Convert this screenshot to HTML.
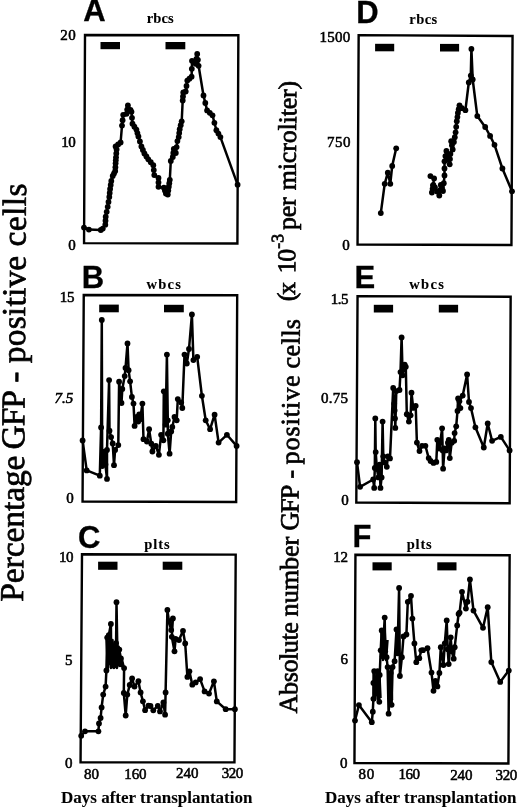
<!DOCTYPE html>
<html><head><meta charset="utf-8"><style>
html,body{margin:0;padding:0;background:#fff;width:520px;height:808px;overflow:hidden}
svg{display:block;will-change:transform}
.tb{stroke:#000;stroke-width:0.1px}
.tn{font-family:"Liberation Serif",serif;font-weight:normal;stroke:#000;stroke-width:0.55px}
.tr{stroke:#000;stroke-width:0.7px}
.sb{stroke:#000;stroke-width:0.3px}
.tb{font-family:"Liberation Serif",serif;font-weight:bold}
.tbi{font-family:"Liberation Serif",serif;font-weight:normal;font-style:italic;stroke:#000;stroke-width:0.55px}
.tr{font-family:"Liberation Serif",serif;font-weight:normal}
.sb{font-family:"Liberation Sans",sans-serif;font-weight:bold}
</style></head><body>
<svg width="520" height="808" viewBox="0 0 520 808"><defs><clipPath id="lc"><rect x="0" y="0" width="252" height="808"/></clipPath></defs><polygon points="85.00,35.00 238.35,35.25 237.40,243.55 84.05,243.10" fill="none" stroke="#000" stroke-width="2.4" stroke-linejoin="miter"/><polygon points="83.75,294.95 237.20,295.25 236.15,502.05 82.55,501.45" fill="none" stroke="#000" stroke-width="2.4" stroke-linejoin="miter"/><polygon points="82.00,554.25 235.70,554.65 234.45,762.40 80.55,762.30" fill="none" stroke="#000" stroke-width="2.4" stroke-linejoin="miter"/><polygon points="358.65,35.15 512.55,35.95 511.45,245.00 357.55,244.45" fill="none" stroke="#000" stroke-width="2.4" stroke-linejoin="miter"/><polygon points="357.55,296.15 510.65,296.80 509.65,503.25 356.30,502.45" fill="none" stroke="#000" stroke-width="2.4" stroke-linejoin="miter"/><polygon points="355.45,554.80 509.65,555.20 508.40,763.45 354.45,762.95" fill="none" stroke="#000" stroke-width="2.4" stroke-linejoin="miter"/><rect x="100.5" y="42" width="19.5" height="7.2" fill="#000"/><rect x="165.5" y="42" width="19.8" height="7.3" fill="#000"/><rect x="99.2" y="304.6" width="19.6" height="7.7" fill="#000"/><rect x="164" y="304.8" width="19.8" height="7.5" fill="#000"/><rect x="98.1" y="561.7" width="19.4" height="8.1" fill="#000"/><rect x="162.7" y="561.7" width="19.6" height="8.1" fill="#000"/><rect x="375.1" y="43.8" width="19.1" height="7.5" fill="#000"/><rect x="440" y="43.9" width="19.1" height="7.6" fill="#000"/><rect x="373.8" y="304.8" width="19.3" height="7.7" fill="#000"/><rect x="438.8" y="304.8" width="19.3" height="7.7" fill="#000"/><rect x="372.5" y="562.3" width="19.2" height="8.1" fill="#000"/><rect x="437.3" y="562.3" width="19.2" height="8.1" fill="#000"/><polyline points="84.00,227.60 88.90,229.60 100.80,230.00 102.80,228.60 105.30,224.70 105.70,216.70 107.70,206.80 109.30,197.00 110.10,189.00 111.30,181.00 112.70,176.00 115.20,171.00 115.60,163.30 116.00,157.30 116.60,149.40 115.60,146.40 120.60,142.50 122.00,125.60 123.20,114.80 126.50,113.80 127.90,105.40 130.50,109.80 131.50,111.80 132.50,123.70 136.40,129.60 138.40,136.50 141.40,146.40 144.40,153.40 148.30,159.30 153.30,165.20 154.30,175.10 158.50,178.00 158.50,186.80 163.90,187.70 165.90,193.60 167.80,194.60 168.80,186.70 169.80,179.80 170.80,160.90 172.80,157.00 173.80,149.00 175.80,153.00 177.40,141.10 178.70,137.10 179.70,129.20 181.70,121.30 182.70,100.50 183.30,92.50 185.70,91.50 187.30,80.60 191.60,76.70 192.00,60.80 195.60,63.80 197.20,53.90 198.60,65.80 203.50,95.50 207.10,110.40 212.50,115.30 216.40,130.20 220.40,137.10 237.60,184.70" fill="none" stroke="#000" stroke-width="2.5" stroke-linejoin="round"/><g fill="#000"><circle cx="84.0" cy="227.6" r="2.9"/><circle cx="88.9" cy="229.6" r="2.9"/><circle cx="100.8" cy="230.0" r="2.9"/><circle cx="102.8" cy="228.6" r="2.9"/><circle cx="105.3" cy="224.7" r="2.9"/><circle cx="105.7" cy="216.7" r="2.9"/><circle cx="107.7" cy="206.8" r="2.9"/><circle cx="109.3" cy="197.0" r="2.9"/><circle cx="110.1" cy="189.0" r="2.9"/><circle cx="111.3" cy="181.0" r="2.9"/><circle cx="112.7" cy="176.0" r="2.9"/><circle cx="115.2" cy="171.0" r="2.9"/><circle cx="115.6" cy="163.3" r="2.9"/><circle cx="116.0" cy="157.3" r="2.9"/><circle cx="116.6" cy="149.4" r="2.9"/><circle cx="115.6" cy="146.4" r="2.9"/><circle cx="120.6" cy="142.5" r="2.9"/><circle cx="122.0" cy="125.6" r="2.9"/><circle cx="123.2" cy="114.8" r="2.9"/><circle cx="126.5" cy="113.8" r="2.9"/><circle cx="127.9" cy="105.4" r="2.9"/><circle cx="130.5" cy="109.8" r="2.9"/><circle cx="131.5" cy="111.8" r="2.9"/><circle cx="132.5" cy="123.7" r="2.9"/><circle cx="136.4" cy="129.6" r="2.9"/><circle cx="138.4" cy="136.5" r="2.9"/><circle cx="141.4" cy="146.4" r="2.9"/><circle cx="144.4" cy="153.4" r="2.9"/><circle cx="148.3" cy="159.3" r="2.9"/><circle cx="153.3" cy="165.2" r="2.9"/><circle cx="154.3" cy="175.1" r="2.9"/><circle cx="158.5" cy="178.0" r="2.9"/><circle cx="158.5" cy="186.8" r="2.9"/><circle cx="163.9" cy="187.7" r="2.9"/><circle cx="165.9" cy="193.6" r="2.9"/><circle cx="167.8" cy="194.6" r="2.9"/><circle cx="168.8" cy="186.7" r="2.9"/><circle cx="169.8" cy="179.8" r="2.9"/><circle cx="170.8" cy="160.9" r="2.9"/><circle cx="172.8" cy="157.0" r="2.9"/><circle cx="173.8" cy="149.0" r="2.9"/><circle cx="175.8" cy="153.0" r="2.9"/><circle cx="177.4" cy="141.1" r="2.9"/><circle cx="178.7" cy="137.1" r="2.9"/><circle cx="179.7" cy="129.2" r="2.9"/><circle cx="181.7" cy="121.3" r="2.9"/><circle cx="182.7" cy="100.5" r="2.9"/><circle cx="183.3" cy="92.5" r="2.9"/><circle cx="185.7" cy="91.5" r="2.9"/><circle cx="187.3" cy="80.6" r="2.9"/><circle cx="191.6" cy="76.7" r="2.9"/><circle cx="192.0" cy="60.8" r="2.9"/><circle cx="195.6" cy="63.8" r="2.9"/><circle cx="197.2" cy="53.9" r="2.9"/><circle cx="198.6" cy="65.8" r="2.9"/><circle cx="203.5" cy="95.5" r="2.9"/><circle cx="207.1" cy="110.4" r="2.9"/><circle cx="212.5" cy="115.3" r="2.9"/><circle cx="216.4" cy="130.2" r="2.9"/><circle cx="220.4" cy="137.1" r="2.9"/><circle cx="237.6" cy="184.7" r="2.9"/><circle cx="105.5" cy="220.7" r="2.9"/><circle cx="106.7" cy="211.8" r="2.9"/><circle cx="108.5" cy="201.9" r="2.9"/><circle cx="109.7" cy="193.0" r="2.9"/><circle cx="110.7" cy="185.0" r="2.9"/><circle cx="114.0" cy="173.5" r="2.9"/><circle cx="115.4" cy="167.2" r="2.9"/><circle cx="115.8" cy="160.3" r="2.9"/><circle cx="116.3" cy="153.4" r="2.9"/><circle cx="118.1" cy="144.4" r="2.9"/><circle cx="122.6" cy="120.2" r="2.9"/><circle cx="127.2" cy="109.6" r="2.9"/><circle cx="132.0" cy="117.8" r="2.9"/><circle cx="134.4" cy="126.7" r="2.9"/><circle cx="137.4" cy="133.1" r="2.9"/><circle cx="139.9" cy="141.4" r="2.9"/><circle cx="142.9" cy="149.9" r="2.9"/><circle cx="146.4" cy="156.4" r="2.9"/><circle cx="150.8" cy="162.2" r="2.9"/><circle cx="153.8" cy="170.1" r="2.9"/><circle cx="158.5" cy="182.4" r="2.9"/><circle cx="164.9" cy="190.6" r="2.9"/><circle cx="168.3" cy="190.6" r="2.9"/><circle cx="169.3" cy="183.2" r="2.9"/><circle cx="173.3" cy="153.0" r="2.9"/><circle cx="176.6" cy="147.1" r="2.9"/><circle cx="179.2" cy="133.1" r="2.9"/><circle cx="180.7" cy="125.2" r="2.9"/><circle cx="183.0" cy="96.5" r="2.9"/><circle cx="186.5" cy="86.0" r="2.9"/><circle cx="189.4" cy="78.7" r="2.9"/><circle cx="191.8" cy="68.8" r="2.9"/><circle cx="196.4" cy="58.8" r="2.9"/><circle cx="197.9" cy="59.8" r="2.9"/><circle cx="205.3" cy="103.0" r="2.9"/><circle cx="209.8" cy="112.8" r="2.9"/><circle cx="214.4" cy="122.8" r="2.9"/><circle cx="218.4" cy="133.6" r="2.9"/></g><polyline points="82.60,440.40 86.70,470.40 99.80,475.70 101.10,427.50 101.80,320.00 102.20,466.00 104.60,451.60 105.40,464.40 107.00,478.90 107.00,450.00 109.10,380.10 109.50,430.70 111.10,437.10 112.70,443.50 114.00,465.20 115.10,450.00 118.30,445.10 119.10,381.70 121.50,403.00 122.30,388.90 124.70,376.10 125.50,368.00 127.50,343.40 128.60,370.20 130.10,381.30 131.90,396.90 133.50,403.60 134.60,425.90 136.80,417.00 138.20,421.50 139.20,414.50 140.20,419.20 142.40,403.60 143.50,439.20 146.90,441.50 149.10,429.20 151.30,443.70 152.40,451.50 155.80,445.90 158.90,454.80 161.10,434.80 163.40,440.30 163.80,391.30 165.60,424.70 166.90,354.60 167.80,420.30 167.80,433.70 169.60,453.70 171.20,431.40 172.30,427.00 174.50,417.00 176.70,420.30 177.80,399.10 181.20,402.50 182.30,408.00 184.50,354.60 186.80,363.50 189.00,349.00 191.90,314.50 193.40,360.10 197.20,356.80 201.90,395.80 205.70,420.30 210.10,429.20 214.60,414.70 218.60,442.60 226.90,434.80 236.60,445.90" fill="none" stroke="#000" stroke-width="2.5" stroke-linejoin="round"/><g fill="#000"><circle cx="82.6" cy="440.4" r="2.9"/><circle cx="86.7" cy="470.4" r="2.9"/><circle cx="99.8" cy="475.7" r="2.9"/><circle cx="101.1" cy="427.5" r="2.9"/><circle cx="101.8" cy="320.0" r="2.9"/><circle cx="102.2" cy="466.0" r="2.9"/><circle cx="104.6" cy="451.6" r="2.9"/><circle cx="105.4" cy="464.4" r="2.9"/><circle cx="107.0" cy="478.9" r="2.9"/><circle cx="107.0" cy="450.0" r="2.9"/><circle cx="109.1" cy="380.1" r="2.9"/><circle cx="109.5" cy="430.7" r="2.9"/><circle cx="111.1" cy="437.1" r="2.9"/><circle cx="112.7" cy="443.5" r="2.9"/><circle cx="114.0" cy="465.2" r="2.9"/><circle cx="115.1" cy="450.0" r="2.9"/><circle cx="118.3" cy="445.1" r="2.9"/><circle cx="119.1" cy="381.7" r="2.9"/><circle cx="121.5" cy="403.0" r="2.9"/><circle cx="122.3" cy="388.9" r="2.9"/><circle cx="124.7" cy="376.1" r="2.9"/><circle cx="125.5" cy="368.0" r="2.9"/><circle cx="127.5" cy="343.4" r="2.9"/><circle cx="128.6" cy="370.2" r="2.9"/><circle cx="130.1" cy="381.3" r="2.9"/><circle cx="131.9" cy="396.9" r="2.9"/><circle cx="133.5" cy="403.6" r="2.9"/><circle cx="134.6" cy="425.9" r="2.9"/><circle cx="136.8" cy="417.0" r="2.9"/><circle cx="138.2" cy="421.5" r="2.9"/><circle cx="139.2" cy="414.5" r="2.9"/><circle cx="140.2" cy="419.2" r="2.9"/><circle cx="142.4" cy="403.6" r="2.9"/><circle cx="143.5" cy="439.2" r="2.9"/><circle cx="146.9" cy="441.5" r="2.9"/><circle cx="149.1" cy="429.2" r="2.9"/><circle cx="151.3" cy="443.7" r="2.9"/><circle cx="152.4" cy="451.5" r="2.9"/><circle cx="155.8" cy="445.9" r="2.9"/><circle cx="158.9" cy="454.8" r="2.9"/><circle cx="161.1" cy="434.8" r="2.9"/><circle cx="163.4" cy="440.3" r="2.9"/><circle cx="163.8" cy="391.3" r="2.9"/><circle cx="165.6" cy="424.7" r="2.9"/><circle cx="166.9" cy="354.6" r="2.9"/><circle cx="167.8" cy="420.3" r="2.9"/><circle cx="167.8" cy="433.7" r="2.9"/><circle cx="169.6" cy="453.7" r="2.9"/><circle cx="171.2" cy="431.4" r="2.9"/><circle cx="172.3" cy="427.0" r="2.9"/><circle cx="174.5" cy="417.0" r="2.9"/><circle cx="176.7" cy="420.3" r="2.9"/><circle cx="177.8" cy="399.1" r="2.9"/><circle cx="181.2" cy="402.5" r="2.9"/><circle cx="182.3" cy="408.0" r="2.9"/><circle cx="184.5" cy="354.6" r="2.9"/><circle cx="186.8" cy="363.5" r="2.9"/><circle cx="189.0" cy="349.0" r="2.9"/><circle cx="191.9" cy="314.5" r="2.9"/><circle cx="193.4" cy="360.1" r="2.9"/><circle cx="197.2" cy="356.8" r="2.9"/><circle cx="201.9" cy="395.8" r="2.9"/><circle cx="205.7" cy="420.3" r="2.9"/><circle cx="210.1" cy="429.2" r="2.9"/><circle cx="214.6" cy="414.7" r="2.9"/><circle cx="218.6" cy="442.6" r="2.9"/><circle cx="226.9" cy="434.8" r="2.9"/><circle cx="236.6" cy="445.9" r="2.9"/></g><polyline points="81.20,735.80 85.00,731.30 98.40,731.30 99.00,723.50 100.60,718.00 101.60,707.40 103.20,694.60 105.60,686.60 106.40,670.50 107.20,637.60 108.80,635.20 110.90,623.90 111.20,662.50 112.00,646.40 113.70,665.70 116.10,643.20 116.50,602.20 117.30,648.00 119.30,649.60 120.90,658.50 120.10,664.10 124.10,668.10 123.80,693.00 125.70,715.50 127.30,694.60 129.70,685.00 132.10,678.50 134.50,686.60 138.40,681.20 140.60,692.40 142.90,701.30 145.10,710.20 148.40,705.70 150.50,706.00 153.30,710.30 157.80,705.80 160.00,711.40 163.40,702.50 165.10,714.70 165.60,692.50 167.40,610.00 168.90,621.20 171.20,630.10 172.90,618.50 171.80,636.80 174.50,651.30 175.60,639.00 179.00,640.10 183.00,630.80 185.20,643.50 187.40,676.90 189.40,671.30 192.30,684.70 195.70,682.40 200.10,679.10 204.60,691.40 209.00,693.60 213.90,681.30 216.80,701.40 225.70,709.20 234.90,709.20" fill="none" stroke="#000" stroke-width="2.5" stroke-linejoin="round"/><g fill="#000"><circle cx="81.2" cy="735.8" r="2.9"/><circle cx="85.0" cy="731.3" r="2.9"/><circle cx="98.4" cy="731.3" r="2.9"/><circle cx="99.0" cy="723.5" r="2.9"/><circle cx="100.6" cy="718.0" r="2.9"/><circle cx="101.6" cy="707.4" r="2.9"/><circle cx="103.2" cy="694.6" r="2.9"/><circle cx="105.6" cy="686.6" r="2.9"/><circle cx="106.4" cy="670.5" r="2.9"/><circle cx="107.2" cy="637.6" r="2.9"/><circle cx="108.8" cy="635.2" r="2.9"/><circle cx="110.9" cy="623.9" r="2.9"/><circle cx="111.2" cy="662.5" r="2.9"/><circle cx="112.0" cy="646.4" r="2.9"/><circle cx="113.7" cy="665.7" r="2.9"/><circle cx="116.1" cy="643.2" r="2.9"/><circle cx="116.5" cy="602.2" r="2.9"/><circle cx="117.3" cy="648.0" r="2.9"/><circle cx="119.3" cy="649.6" r="2.9"/><circle cx="120.9" cy="658.5" r="2.9"/><circle cx="120.1" cy="664.1" r="2.9"/><circle cx="124.1" cy="668.1" r="2.9"/><circle cx="123.8" cy="693.0" r="2.9"/><circle cx="125.7" cy="715.5" r="2.9"/><circle cx="127.3" cy="694.6" r="2.9"/><circle cx="129.7" cy="685.0" r="2.9"/><circle cx="132.1" cy="678.5" r="2.9"/><circle cx="134.5" cy="686.6" r="2.9"/><circle cx="138.4" cy="681.2" r="2.9"/><circle cx="140.6" cy="692.4" r="2.9"/><circle cx="142.9" cy="701.3" r="2.9"/><circle cx="145.1" cy="710.2" r="2.9"/><circle cx="148.4" cy="705.7" r="2.9"/><circle cx="150.5" cy="706.0" r="2.9"/><circle cx="153.3" cy="710.3" r="2.9"/><circle cx="157.8" cy="705.8" r="2.9"/><circle cx="160.0" cy="711.4" r="2.9"/><circle cx="163.4" cy="702.5" r="2.9"/><circle cx="165.1" cy="714.7" r="2.9"/><circle cx="165.6" cy="692.5" r="2.9"/><circle cx="167.4" cy="610.0" r="2.9"/><circle cx="168.9" cy="621.2" r="2.9"/><circle cx="171.2" cy="630.1" r="2.9"/><circle cx="172.9" cy="618.5" r="2.9"/><circle cx="171.8" cy="636.8" r="2.9"/><circle cx="174.5" cy="651.3" r="2.9"/><circle cx="175.6" cy="639.0" r="2.9"/><circle cx="179.0" cy="640.1" r="2.9"/><circle cx="183.0" cy="630.8" r="2.9"/><circle cx="185.2" cy="643.5" r="2.9"/><circle cx="187.4" cy="676.9" r="2.9"/><circle cx="189.4" cy="671.3" r="2.9"/><circle cx="192.3" cy="684.7" r="2.9"/><circle cx="195.7" cy="682.4" r="2.9"/><circle cx="200.1" cy="679.1" r="2.9"/><circle cx="204.6" cy="691.4" r="2.9"/><circle cx="209.0" cy="693.6" r="2.9"/><circle cx="213.9" cy="681.3" r="2.9"/><circle cx="216.8" cy="701.4" r="2.9"/><circle cx="225.7" cy="709.2" r="2.9"/><circle cx="234.9" cy="709.2" r="2.9"/></g><polyline points="380.80,213.10 384.70,183.80 387.80,172.70 390.30,183.80 392.20,165.90 396.20,148.30" fill="none" stroke="#000" stroke-width="2.5" stroke-linejoin="round"/><g fill="#000"><circle cx="380.8" cy="213.1" r="2.9"/><circle cx="384.7" cy="183.8" r="2.9"/><circle cx="387.8" cy="172.7" r="2.9"/><circle cx="390.3" cy="183.8" r="2.9"/><circle cx="392.2" cy="165.9" r="2.9"/><circle cx="396.2" cy="148.3" r="2.9"/></g><polyline points="430.40,176.10 434.10,178.40 431.90,192.50 433.40,185.00 434.90,187.30 439.30,195.50 440.80,185.00 443.00,191.00 444.50,175.40 444.50,161.30 446.40,150.90 448.20,159.80 449.70,164.30 450.40,153.90 452.70,149.40 451.20,141.20 453.90,142.00 455.60,132.30 456.80,121.20 457.90,113.00 459.50,105.30 461.90,108.20 465.40,110.20 468.80,82.50 470.80,75.60 471.40,48.90 472.70,79.50 477.30,116.10 485.20,127.00 490.10,135.90 494.50,144.80 502.40,168.50 512.00,191.30" fill="none" stroke="#000" stroke-width="2.5" stroke-linejoin="round"/><g fill="#000"><circle cx="430.4" cy="176.1" r="2.9"/><circle cx="434.1" cy="178.4" r="2.9"/><circle cx="431.9" cy="192.5" r="2.9"/><circle cx="433.4" cy="185.0" r="2.9"/><circle cx="434.9" cy="187.3" r="2.9"/><circle cx="439.3" cy="195.5" r="2.9"/><circle cx="440.8" cy="185.0" r="2.9"/><circle cx="443.0" cy="191.0" r="2.9"/><circle cx="444.5" cy="175.4" r="2.9"/><circle cx="444.5" cy="161.3" r="2.9"/><circle cx="446.4" cy="150.9" r="2.9"/><circle cx="448.2" cy="159.8" r="2.9"/><circle cx="449.7" cy="164.3" r="2.9"/><circle cx="450.4" cy="153.9" r="2.9"/><circle cx="452.7" cy="149.4" r="2.9"/><circle cx="451.2" cy="141.2" r="2.9"/><circle cx="453.9" cy="142.0" r="2.9"/><circle cx="455.6" cy="132.3" r="2.9"/><circle cx="456.8" cy="121.2" r="2.9"/><circle cx="457.9" cy="113.0" r="2.9"/><circle cx="459.5" cy="105.3" r="2.9"/><circle cx="461.9" cy="108.2" r="2.9"/><circle cx="465.4" cy="110.2" r="2.9"/><circle cx="468.8" cy="82.5" r="2.9"/><circle cx="470.8" cy="75.6" r="2.9"/><circle cx="471.4" cy="48.9" r="2.9"/><circle cx="472.7" cy="79.5" r="2.9"/><circle cx="477.3" cy="116.1" r="2.9"/><circle cx="485.2" cy="127.0" r="2.9"/><circle cx="490.1" cy="135.9" r="2.9"/><circle cx="494.5" cy="144.8" r="2.9"/><circle cx="502.4" cy="168.5" r="2.9"/><circle cx="512.0" cy="191.3" r="2.9"/><circle cx="433.0" cy="185.4" r="2.9"/><circle cx="432.6" cy="188.8" r="2.9"/><circle cx="437.1" cy="191.4" r="2.9"/><circle cx="440.1" cy="190.2" r="2.9"/><circle cx="441.9" cy="188.0" r="2.9"/><circle cx="443.8" cy="183.2" r="2.9"/><circle cx="444.5" cy="168.4" r="2.9"/><circle cx="445.4" cy="156.1" r="2.9"/><circle cx="447.3" cy="155.4" r="2.9"/><circle cx="450.0" cy="159.1" r="2.9"/><circle cx="451.9" cy="145.3" r="2.9"/><circle cx="454.8" cy="137.2" r="2.9"/><circle cx="456.2" cy="126.8" r="2.9"/><circle cx="457.4" cy="117.1" r="2.9"/><circle cx="458.7" cy="109.2" r="2.9"/></g><polyline points="357.00,462.20 360.10,486.80 373.20,479.50 374.20,487.90 374.80,467.90 375.30,418.40 375.70,452.10 376.90,468.90 378.40,477.40 379.50,464.70 380.50,487.90 381.60,477.40 382.60,421.60 383.30,456.30 384.70,462.60 386.80,466.80 387.90,456.30 390.00,458.40 393.20,387.90 394.20,403.70 394.60,410.50 395.00,418.40 395.30,427.90 396.30,391.10 399.50,390.00 400.50,372.10 401.60,337.40 402.60,375.30 404.70,364.70 405.80,366.80 406.80,414.20 408.90,421.60 410.60,415.30 411.50,392.70 413.20,407.90 415.70,405.80 416.90,442.60 419.50,451.10 422.00,445.80 425.40,445.80 428.70,458.10 430.60,461.00 433.50,462.90 436.30,461.90 437.30,439.80 439.20,448.50 440.20,442.70 442.10,428.30 442.70,450.40 443.10,468.70 444.60,448.50 446.00,450.40 447.90,442.70 448.80,439.80 449.80,458.10 451.70,442.70 454.20,440.80 454.60,433.10 456.20,426.30 457.50,411.00 458.10,398.50 460.40,408.10 459.40,401.30 462.70,395.60 467.10,374.40 469.00,401.90 471.00,408.10 475.40,427.30 483.80,447.50 487.70,423.50 492.10,440.80 500.80,436.90 509.60,450.40" fill="none" stroke="#000" stroke-width="2.5" stroke-linejoin="round"/><g fill="#000"><circle cx="357.0" cy="462.2" r="2.9"/><circle cx="360.1" cy="486.8" r="2.9"/><circle cx="373.2" cy="479.5" r="2.9"/><circle cx="374.2" cy="487.9" r="2.9"/><circle cx="374.8" cy="467.9" r="2.9"/><circle cx="375.3" cy="418.4" r="2.9"/><circle cx="375.7" cy="452.1" r="2.9"/><circle cx="376.9" cy="468.9" r="2.9"/><circle cx="378.4" cy="477.4" r="2.9"/><circle cx="379.5" cy="464.7" r="2.9"/><circle cx="380.5" cy="487.9" r="2.9"/><circle cx="381.6" cy="477.4" r="2.9"/><circle cx="382.6" cy="421.6" r="2.9"/><circle cx="383.3" cy="456.3" r="2.9"/><circle cx="384.7" cy="462.6" r="2.9"/><circle cx="386.8" cy="466.8" r="2.9"/><circle cx="387.9" cy="456.3" r="2.9"/><circle cx="390.0" cy="458.4" r="2.9"/><circle cx="393.2" cy="387.9" r="2.9"/><circle cx="394.2" cy="403.7" r="2.9"/><circle cx="394.6" cy="410.5" r="2.9"/><circle cx="395.0" cy="418.4" r="2.9"/><circle cx="395.3" cy="427.9" r="2.9"/><circle cx="396.3" cy="391.1" r="2.9"/><circle cx="399.5" cy="390.0" r="2.9"/><circle cx="400.5" cy="372.1" r="2.9"/><circle cx="401.6" cy="337.4" r="2.9"/><circle cx="402.6" cy="375.3" r="2.9"/><circle cx="404.7" cy="364.7" r="2.9"/><circle cx="405.8" cy="366.8" r="2.9"/><circle cx="406.8" cy="414.2" r="2.9"/><circle cx="408.9" cy="421.6" r="2.9"/><circle cx="410.6" cy="415.3" r="2.9"/><circle cx="411.5" cy="392.7" r="2.9"/><circle cx="413.2" cy="407.9" r="2.9"/><circle cx="415.7" cy="405.8" r="2.9"/><circle cx="416.9" cy="442.6" r="2.9"/><circle cx="419.5" cy="451.1" r="2.9"/><circle cx="422.0" cy="445.8" r="2.9"/><circle cx="425.4" cy="445.8" r="2.9"/><circle cx="428.7" cy="458.1" r="2.9"/><circle cx="430.6" cy="461.0" r="2.9"/><circle cx="433.5" cy="462.9" r="2.9"/><circle cx="436.3" cy="461.9" r="2.9"/><circle cx="437.3" cy="439.8" r="2.9"/><circle cx="439.2" cy="448.5" r="2.9"/><circle cx="440.2" cy="442.7" r="2.9"/><circle cx="442.1" cy="428.3" r="2.9"/><circle cx="442.7" cy="450.4" r="2.9"/><circle cx="443.1" cy="468.7" r="2.9"/><circle cx="444.6" cy="448.5" r="2.9"/><circle cx="446.0" cy="450.4" r="2.9"/><circle cx="447.9" cy="442.7" r="2.9"/><circle cx="448.8" cy="439.8" r="2.9"/><circle cx="449.8" cy="458.1" r="2.9"/><circle cx="451.7" cy="442.7" r="2.9"/><circle cx="454.2" cy="440.8" r="2.9"/><circle cx="454.6" cy="433.1" r="2.9"/><circle cx="456.2" cy="426.3" r="2.9"/><circle cx="457.5" cy="411.0" r="2.9"/><circle cx="458.1" cy="398.5" r="2.9"/><circle cx="460.4" cy="408.1" r="2.9"/><circle cx="459.4" cy="401.3" r="2.9"/><circle cx="462.7" cy="395.6" r="2.9"/><circle cx="467.1" cy="374.4" r="2.9"/><circle cx="469.0" cy="401.9" r="2.9"/><circle cx="471.0" cy="408.1" r="2.9"/><circle cx="475.4" cy="427.3" r="2.9"/><circle cx="483.8" cy="447.5" r="2.9"/><circle cx="487.7" cy="423.5" r="2.9"/><circle cx="492.1" cy="440.8" r="2.9"/><circle cx="500.8" cy="436.9" r="2.9"/><circle cx="509.6" cy="450.4" r="2.9"/></g><polyline points="355.00,720.60 358.90,705.10 371.80,722.20 372.80,711.70 373.40,698.80 373.40,683.00 374.20,671.10 375.70,692.90 377.70,671.10 379.30,701.80 379.70,675.00 380.70,650.30 381.70,630.50 382.70,656.20 384.70,617.60 385.20,651.30 386.60,657.20 387.60,667.10 388.60,713.70 390.60,673.10 391.60,704.80 392.60,667.10 394.60,661.20 396.50,629.50 397.50,653.30 399.10,587.90 399.90,676.00 401.90,657.20 403.50,636.40 406.40,634.50 407.80,601.80 411.00,595.80 412.40,618.60 414.40,643.40 416.30,662.20 419.30,658.20 421.30,650.30 423.00,650.20 427.50,648.20 431.50,672.60 433.50,690.80 435.40,680.90 437.40,686.40 439.40,673.00 440.80,647.20 443.40,665.00 444.80,643.30 446.70,620.50 447.70,649.20 448.70,664.10 450.70,637.30 451.70,651.20 453.70,658.70 454.70,647.20 457.20,625.40 458.60,614.00 459.60,612.60 462.00,591.80 465.90,608.60 467.50,601.70 469.90,579.50 473.50,610.60 483.00,627.80 487.70,607.20 491.30,662.10 500.20,681.90 508.80,670.60" fill="none" stroke="#000" stroke-width="2.5" stroke-linejoin="round"/><g fill="#000"><circle cx="355.0" cy="720.6" r="2.9"/><circle cx="358.9" cy="705.1" r="2.9"/><circle cx="371.8" cy="722.2" r="2.9"/><circle cx="372.8" cy="711.7" r="2.9"/><circle cx="373.4" cy="698.8" r="2.9"/><circle cx="373.4" cy="683.0" r="2.9"/><circle cx="374.2" cy="671.1" r="2.9"/><circle cx="375.7" cy="692.9" r="2.9"/><circle cx="377.7" cy="671.1" r="2.9"/><circle cx="379.3" cy="701.8" r="2.9"/><circle cx="379.7" cy="675.0" r="2.9"/><circle cx="380.7" cy="650.3" r="2.9"/><circle cx="381.7" cy="630.5" r="2.9"/><circle cx="382.7" cy="656.2" r="2.9"/><circle cx="384.7" cy="617.6" r="2.9"/><circle cx="385.2" cy="651.3" r="2.9"/><circle cx="386.6" cy="657.2" r="2.9"/><circle cx="387.6" cy="667.1" r="2.9"/><circle cx="388.6" cy="713.7" r="2.9"/><circle cx="390.6" cy="673.1" r="2.9"/><circle cx="391.6" cy="704.8" r="2.9"/><circle cx="392.6" cy="667.1" r="2.9"/><circle cx="394.6" cy="661.2" r="2.9"/><circle cx="396.5" cy="629.5" r="2.9"/><circle cx="397.5" cy="653.3" r="2.9"/><circle cx="399.1" cy="587.9" r="2.9"/><circle cx="399.9" cy="676.0" r="2.9"/><circle cx="401.9" cy="657.2" r="2.9"/><circle cx="403.5" cy="636.4" r="2.9"/><circle cx="406.4" cy="634.5" r="2.9"/><circle cx="407.8" cy="601.8" r="2.9"/><circle cx="411.0" cy="595.8" r="2.9"/><circle cx="412.4" cy="618.6" r="2.9"/><circle cx="414.4" cy="643.4" r="2.9"/><circle cx="416.3" cy="662.2" r="2.9"/><circle cx="419.3" cy="658.2" r="2.9"/><circle cx="421.3" cy="650.3" r="2.9"/><circle cx="423.0" cy="650.2" r="2.9"/><circle cx="427.5" cy="648.2" r="2.9"/><circle cx="431.5" cy="672.6" r="2.9"/><circle cx="433.5" cy="690.8" r="2.9"/><circle cx="435.4" cy="680.9" r="2.9"/><circle cx="437.4" cy="686.4" r="2.9"/><circle cx="439.4" cy="673.0" r="2.9"/><circle cx="440.8" cy="647.2" r="2.9"/><circle cx="443.4" cy="665.0" r="2.9"/><circle cx="444.8" cy="643.3" r="2.9"/><circle cx="446.7" cy="620.5" r="2.9"/><circle cx="447.7" cy="649.2" r="2.9"/><circle cx="448.7" cy="664.1" r="2.9"/><circle cx="450.7" cy="637.3" r="2.9"/><circle cx="451.7" cy="651.2" r="2.9"/><circle cx="453.7" cy="658.7" r="2.9"/><circle cx="454.7" cy="647.2" r="2.9"/><circle cx="457.2" cy="625.4" r="2.9"/><circle cx="458.6" cy="614.0" r="2.9"/><circle cx="459.6" cy="612.6" r="2.9"/><circle cx="462.0" cy="591.8" r="2.9"/><circle cx="465.9" cy="608.6" r="2.9"/><circle cx="467.5" cy="601.7" r="2.9"/><circle cx="469.9" cy="579.5" r="2.9"/><circle cx="473.5" cy="610.6" r="2.9"/><circle cx="483.0" cy="627.8" r="2.9"/><circle cx="487.7" cy="607.2" r="2.9"/><circle cx="491.3" cy="662.1" r="2.9"/><circle cx="500.2" cy="681.9" r="2.9"/><circle cx="508.8" cy="670.6" r="2.9"/></g><polyline points="106.50,640.00 108.00,668.00 109.50,636.00 111.00,668.00 112.50,640.00 114.00,668.00 115.50,645.00 117.00,668.00 118.50,650.00 120.00,666.00 122.00,660.00 124.00,668.00" fill="none" stroke="#000" stroke-width="2.5" stroke-linejoin="round"/><polyline points="373.50,672.00 375.00,700.00 376.50,672.00 378.00,700.00 379.50,676.00 380.50,698.00" fill="none" stroke="#000" stroke-width="2.5" stroke-linejoin="round"/><polyline points="381.50,632.00 383.00,660.00 384.50,626.00 386.00,660.00 387.50,640.00" fill="none" stroke="#000" stroke-width="2.5" stroke-linejoin="round"/><polyline points="388.00,668.00 389.50,705.00 391.00,668.00 392.00,700.00" fill="none" stroke="#000" stroke-width="2.5" stroke-linejoin="round"/><text id="A20" x="60.20" y="40.40" class="tn" font-size="15" style="letter-spacing:0.60px">20</text><text id="A10" x="61.15" y="146.90" class="tn" font-size="15" style="letter-spacing:-0.50px">10</text><text id="A0" x="68.20" y="249.65" class="tn" font-size="15" style="letter-spacing:0.00px">0</text><text id="B15" x="59.85" y="302.30" class="tn" font-size="15" style="letter-spacing:-0.43px">15</text><text id="B75" x="54.40" y="402.90" class="tbi" font-size="15" style="letter-spacing:0.07px">7.5</text><text id="B0" x="66.20" y="503.45" class="tn" font-size="15" style="letter-spacing:0.00px">0</text><text id="C10" x="58.90" y="561.90" class="tn" font-size="15" style="letter-spacing:-0.50px">10</text><text id="C5" x="64.95" y="665.00" class="tn" font-size="15" style="letter-spacing:0.00px">5</text><text id="C0" x="64.95" y="767.65" class="tn" font-size="15" style="letter-spacing:0.00px">0</text><text id="D1500" x="319.55" y="42.30" class="tn" font-size="15" style="letter-spacing:0.26px">1500</text><text id="D750" x="326.95" y="146.60" class="tn" font-size="15" style="letter-spacing:0.56px">750</text><text id="D0" x="342.20" y="250.30" class="tn" font-size="15" style="letter-spacing:0.00px">0</text><text id="E15" x="330.85" y="303.55" class="tn" font-size="15" style="letter-spacing:-0.50px">1.5</text><text id="E075" x="321.10" y="402.55" class="tn" font-size="15" style="letter-spacing:0.23px">0.75</text><text id="E0" x="341.30" y="504.70" class="tn" font-size="15" style="letter-spacing:0.00px">0</text><text id="F12" x="333.35" y="561.90" class="tn" font-size="15" style="letter-spacing:-0.43px">12</text><text id="F6" x="340.50" y="664.35" class="tn" font-size="15" style="letter-spacing:0.00px">6</text><text id="F0" x="339.95" y="768.15" class="tn" font-size="15" style="letter-spacing:0.00px">0</text><text id="Cx80" x="84.05" y="778.55" class="tn" font-size="15" style="letter-spacing:0.04px">80</text><text id="Cx160" x="124.35" y="778.55" class="tn" font-size="15" style="letter-spacing:-0.17px">160</text><text id="Cx240" x="176.10" y="778.40" class="tn" font-size="15" style="letter-spacing:0.00px">240</text><text id="Cx320" x="221.65" y="778.40" class="tn" font-size="15" style="letter-spacing:-0.50px">320</text><text id="Fx80" x="358.55" y="778.85" class="tn" font-size="15" style="letter-spacing:0.60px">80</text><text id="Fx160" x="398.60" y="778.85" class="tn" font-size="15" style="letter-spacing:-0.50px">160</text><text id="Fx240" x="450.15" y="780.20" class="tn" font-size="15" style="letter-spacing:-0.04px">240</text><text id="Fx320" x="495.55" y="780.20" class="tn" font-size="15" style="letter-spacing:-0.36px">320</text><text id="LA" x="83.25" y="21.45" class="sb" font-size="31" style="letter-spacing:0.00px">A</text><text id="LB" x="81.80" y="288.20" class="sb" font-size="31" style="letter-spacing:0.00px">B</text><text id="LC" x="78.05" y="548.25" class="sb" font-size="31" style="letter-spacing:0.00px">C</text><text id="LD" x="356.25" y="23.25" class="sb" font-size="31" style="letter-spacing:0.00px">D</text><text id="LE" x="354.45" y="288.20" class="sb" font-size="31" style="letter-spacing:0.00px">E</text><text id="LF" x="352.50" y="547.45" class="sb" font-size="31" style="letter-spacing:0.00px">F</text><text id="TA" x="146.75" y="22.80" class="tb" font-size="14.5" style="letter-spacing:0.07px">rbcs</text><text id="TB" x="146.45" y="289.00" class="tb" font-size="14.5" style="letter-spacing:1.30px">wbcs</text><text id="TC" x="144.20" y="549.30" class="tb" font-size="14.5" style="letter-spacing:0.97px">plts</text><text id="TD" x="409.35" y="23.55" class="tb" font-size="14.5" style="letter-spacing:0.40px">rbcs</text><text id="TE" x="409.30" y="289.10" class="tb" font-size="14.5" style="letter-spacing:1.32px">wbcs</text><text id="TF" x="406.65" y="549.30" class="tb" font-size="14.5" style="letter-spacing:0.85px">plts</text><text id="DC" x="61.00" y="803.10" class="tb" font-size="17" style="letter-spacing:0.00px">Days after transplantation</text><text id="DF" x="325.05" y="803.10" class="tb" font-size="17" style="letter-spacing:0.00px">Days after transplantation</text><text id="WL0" class="tr" font-size="33.4" letter-spacing="-0.04" transform="translate(23.10,601.70) rotate(-89.6)">Percentage</text><text id="WL1" class="tr" font-size="33.4" letter-spacing="-1.04" transform="translate(24.17,449.40) rotate(-89.6)">GFP</text><text id="WL2" class="tr" font-size="33.4" transform="translate(24.64,382.70) rotate(-89.6)">-</text><text id="WL3" class="tr" font-size="33.4" letter-spacing="0.23" transform="translate(24.77,363.20) rotate(-89.6)">positive</text><text id="WL4" class="tr" font-size="33.4" letter-spacing="0.44" transform="translate(25.59,246.50) rotate(-89.6)">cells</text><text id="WM0" class="tr" font-size="26.13" letter-spacing="-0.43" transform="translate(297.09,713.40) rotate(-89.6)">Absolute</text><text id="WM1" class="tr" font-size="26.13" letter-spacing="-0.03" transform="translate(297.76,616.40) rotate(-89.6)">number</text><text id="WM2" class="tr" font-size="26.13" letter-spacing="-0.96" transform="translate(298.34,530.80) rotate(-89.6)">GFP</text><text id="WM3" class="tr" font-size="26.13" transform="translate(298.70,478.80) rotate(-89.6)">-</text><text id="WM4" class="tr" font-size="26.13" letter-spacing="0.91" transform="translate(298.79,464.40) rotate(-89.6)">positive</text><text id="WM5" class="tr" font-size="26.13" letter-spacing="0.40" transform="translate(299.45,368.50) rotate(-89.6)">cells</text><text id="WM6" class="tr" font-size="25.8" letter-spacing="-2.40" transform="translate(295.00,301.30) rotate(-89.6)">(x</text><text id="WM7" class="tr" font-size="25.8" letter-spacing="-1.12" transform="translate(295.17,273.50) rotate(-89.6)">10</text><text id="WM8" class="tr" font-size="17.5" letter-spacing="0.16" transform="translate(283.31,248.70) rotate(-89.6)">-3</text><text id="WM9" class="tr" font-size="25.8" letter-spacing="-0.24" transform="translate(295.42,229.90) rotate(-89.6)">per</text><text id="WM10" class="tr" font-size="25.8" letter-spacing="-0.08" transform="translate(295.66,190.30) rotate(-89.6)">microliter)</text></svg>
</body></html>
